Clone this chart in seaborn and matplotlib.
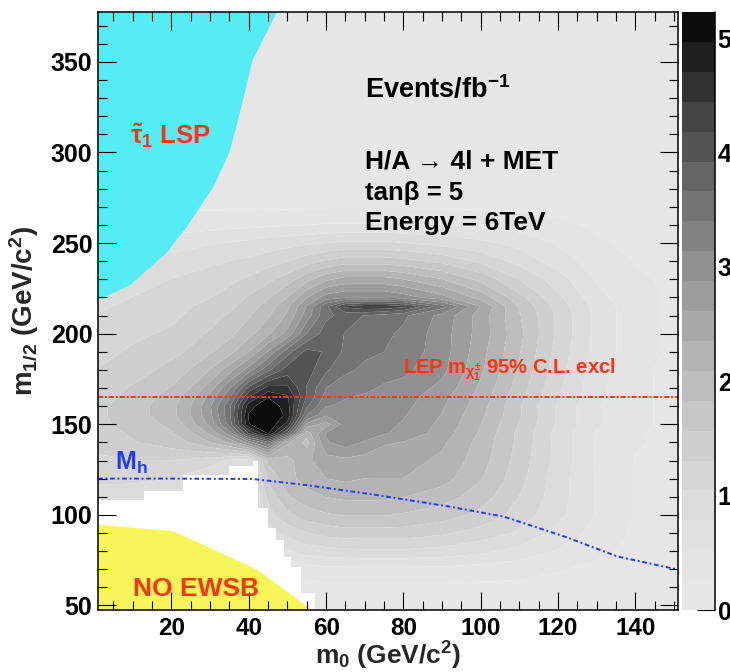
import numpy as np
import matplotlib
matplotlib.use("Agg")
import matplotlib.pyplot as plt
import seaborn as sns
from matplotlib.ticker import MultipleLocator

# ---------------------------------------------------------------------------
# Expected signal yield (events / fb^-1) for H/A -> 4l + MET on the (m0, m1/2) plane
# ---------------------------------------------------------------------------
m0_grid = [0, 10, 20, 25, 30, 35, 40, 45, 50, 55, 60, 65, 70, 75, 80, 90, 100, 110, 120, 130, 140, 152]
m12_grid = [45, 60, 70, 80, 90, 100, 110, 120, 130, 140, 145, 150, 155, 160, 165, 170,
            180, 190, 200, 210, 215, 220, 230, 240, 250, 260, 270, 300, 380]

events = [
    # m1/2 = 45
    [0.12, 0.12, 0.12, 0.12, 0.12, 0.12, 0.12, 0.12, 0.12, 0.12, 0.12, 0.12, 0.12, 0.12, 0.12, 0.12, 0.12, 0.12, 0.12, 0.12, 0.12, 0.12],
    # 60
    [0.12, 0.12, 0.12, 0.12, 0.12, 0.12, 0.12, 0.12, 0.15, 0.18, 0.20, 0.20, 0.20, 0.20, 0.20, 0.20, 0.20, 0.20, 0.18, 0.15, 0.12, 0.12],
    # 70
    [0.12, 0.12, 0.12, 0.12, 0.12, 0.12, 0.12, 0.12, 0.30, 0.40, 0.45, 0.45, 0.45, 0.45, 0.45, 0.45, 0.40, 0.35, 0.28, 0.20, 0.15, 0.12],
    # 80
    [0.12, 0.12, 0.12, 0.12, 0.12, 0.12, 0.12, 0.50, 0.75, 0.90, 0.95, 0.98, 1.00, 1.00, 1.00, 0.95, 0.85, 0.70, 0.50, 0.32, 0.20, 0.15],
    # 90
    [0.12, 0.12, 0.12, 0.12, 0.12, 0.12, 0.12, 0.90, 1.15, 1.30, 1.40, 1.45, 1.45, 1.45, 1.45, 1.35, 1.20, 1.00, 0.70, 0.42, 0.22, 0.18],
    # 100
    [0.95, 0.90, 0.80, 0.70, 0.60, 0.50, 0.45, 1.20, 1.50, 1.70, 1.80, 1.85, 1.85, 1.85, 1.80, 1.70, 1.50, 1.20, 0.85, 0.50, 0.25, 0.20],
    # 110
    [0.95, 0.90, 0.80, 0.70, 0.60, 0.50, 0.45, 1.40, 1.80, 2.00, 2.10, 2.15, 2.15, 2.15, 2.10, 1.95, 1.70, 1.30, 0.90, 0.50, 0.25, 0.20],
    # 120
    [1.10, 1.10, 1.05, 0.95, 0.85, 0.75, 0.65, 1.60, 2.00, 2.20, 2.35, 2.40, 2.35, 2.35, 2.35, 2.20, 1.85, 1.40, 0.90, 0.50, 0.25, 0.20],
    # 130
    [1.25, 1.30, 1.30, 1.25, 1.15, 1.00, 0.85, 1.90, 2.00, 2.30, 2.50, 2.55, 2.50, 2.45, 2.45, 2.30, 1.95, 1.45, 0.95, 0.50, 0.25, 0.20],
    # 140
    [1.40, 1.55, 1.70, 1.85, 2.10, 2.40, 3.00, 3.60, 2.40, 2.00, 2.85, 3.00, 2.85, 2.65, 2.60, 2.40, 2.00, 1.50, 0.95, 0.50, 0.28, 0.20],
    # 145
    [1.45, 1.60, 1.80, 2.05, 2.40, 3.00, 4.20, 5.00, 3.90, 2.20, 2.90, 3.05, 3.00, 2.90, 2.80, 2.50, 2.05, 1.50, 0.95, 0.50, 0.28, 0.20],
    # 150
    [1.50, 1.65, 1.90, 2.25, 2.70, 3.50, 4.95, 5.22, 4.60, 2.80, 2.50, 3.00, 3.05, 2.95, 2.85, 2.55, 2.10, 1.55, 1.00, 0.55, 0.30, 0.20],
    # 155
    [1.50, 1.70, 2.00, 2.35, 2.80, 3.60, 5.00, 5.22, 4.90, 3.40, 2.90, 3.00, 3.05, 3.00, 2.90, 2.60, 2.15, 1.60, 1.00, 0.55, 0.30, 0.20],
    # 160
    [1.50, 1.70, 2.00, 2.35, 2.85, 3.60, 4.85, 5.20, 4.80, 3.70, 3.15, 3.10, 3.05, 3.00, 2.95, 2.65, 2.20, 1.60, 1.00, 0.55, 0.30, 0.20],
    # 165
    [1.45, 1.65, 1.95, 2.25, 2.70, 3.35, 4.45, 4.95, 4.75, 3.90, 3.30, 3.15, 3.10, 3.05, 3.00, 2.70, 2.25, 1.65, 1.05, 0.60, 0.30, 0.20],
    # 170
    [1.40, 1.60, 1.85, 2.10, 2.50, 3.10, 4.00, 4.55, 4.50, 3.90, 3.40, 3.25, 3.20, 3.10, 3.05, 2.80, 2.30, 1.70, 1.10, 0.60, 0.30, 0.20],
    # 180
    [1.30, 1.45, 1.65, 1.85, 2.10, 2.50, 3.00, 3.60, 4.05, 4.05, 3.70, 3.45, 3.35, 3.25, 3.20, 2.95, 2.40, 1.80, 1.15, 0.65, 0.30, 0.20],
    # 190
    [1.20, 1.35, 1.50, 1.60, 1.80, 2.00, 2.35, 2.90, 3.55, 4.00, 3.90, 3.60, 3.45, 3.40, 3.30, 3.00, 2.45, 1.85, 1.20, 0.70, 0.35, 0.20],
    # 200
    [1.15, 1.25, 1.35, 1.50, 1.60, 1.75, 2.00, 2.30, 2.70, 3.40, 3.80, 3.65, 3.50, 3.45, 3.35, 3.00, 2.50, 1.90, 1.25, 0.70, 0.35, 0.20],
    # 210
    [1.05, 1.15, 1.25, 1.35, 1.45, 1.60, 1.80, 2.05, 2.40, 3.00, 3.60, 3.75, 3.65, 3.55, 3.45, 3.05, 2.50, 1.85, 1.25, 0.70, 0.35, 0.20],
    # 215
    [1.00, 1.10, 1.20, 1.30, 1.40, 1.50, 1.70, 1.95, 2.30, 2.90, 3.60, 4.25, 4.40, 4.40, 4.25, 3.50, 2.60, 1.80, 1.20, 0.70, 0.35, 0.20],
    # 220
    [0.95, 1.05, 1.15, 1.20, 1.30, 1.40, 1.60, 1.80, 2.10, 2.60, 3.00, 3.10, 3.10, 3.10, 3.00, 2.70, 2.25, 1.65, 1.10, 0.60, 0.35, 0.20],
    # 230
    [0.85, 0.95, 1.05, 1.10, 1.15, 1.25, 1.35, 1.50, 1.70, 2.00, 2.30, 2.45, 2.45, 2.45, 2.35, 2.10, 1.75, 1.30, 0.90, 0.50, 0.30, 0.20],
    # 240
    [0.75, 0.80, 0.90, 0.95, 1.00, 1.05, 1.10, 1.20, 1.30, 1.45, 1.60, 1.70, 1.70, 1.70, 1.65, 1.50, 1.25, 0.95, 0.65, 0.40, 0.25, 0.20],
    # 250
    [0.55, 0.60, 0.65, 0.70, 0.75, 0.80, 0.85, 0.90, 0.95, 1.00, 1.05, 1.10, 1.10, 1.10, 1.05, 0.95, 0.85, 0.70, 0.50, 0.30, 0.20, 0.15],
    # 260
    [0.30, 0.35, 0.40, 0.40, 0.42, 0.45, 0.45, 0.48, 0.50, 0.52, 0.55, 0.55, 0.55, 0.55, 0.55, 0.52, 0.48, 0.40, 0.32, 0.22, 0.15, 0.12],
    # 270
    [0.20, 0.20, 0.22, 0.22, 0.22, 0.22, 0.22, 0.22, 0.22, 0.22, 0.22, 0.22, 0.22, 0.22, 0.22, 0.22, 0.22, 0.20, 0.18, 0.15, 0.12, 0.12],
    # 300
    [0.12, 0.12, 0.12, 0.12, 0.12, 0.12, 0.12, 0.12, 0.12, 0.12, 0.12, 0.12, 0.12, 0.12, 0.12, 0.12, 0.12, 0.12, 0.12, 0.12, 0.12, 0.12],
    # 380
    [0.12, 0.12, 0.12, 0.12, 0.12, 0.12, 0.12, 0.12, 0.12, 0.12, 0.12, 0.12, 0.12, 0.12, 0.12, 0.12, 0.12, 0.12, 0.12, 0.12, 0.12, 0.12],
]
z_max = 5.23
n_contours = 20

# theoretically excluded regions
stau_lsp_m0 = [1, 1, 9.3, 18.9, 24, 30.8, 35, 37.7, 41, 47.3]
stau_lsp_m12 = [377.5, 218.5, 226.8, 245, 259, 281, 300, 322, 351, 377.5]
no_ewsb_m0 = [1, 1, 20.4, 42, 56.3]
no_ewsb_m12 = [47.5, 94.5, 91, 70, 47.5]

# parameter points without generated events
empty_m0 = [1, 1, 13, 13, 23, 23, 35, 35, 41, 41, 42.5, 42.5, 45, 45, 47, 47, 49, 49, 51, 51,
            53.5, 53.5, 57, 57]
empty_m12 = [47.5, 108, 108, 113, 113, 122, 122, 127, 127, 130, 130, 104, 104, 93, 93, 86, 86,
             77, 77, 71, 71, 57, 57, 47.5]

# light Higgs mass limit contour and LEP chargino limit
mh_m0 = [1, 20, 41, 55, 72, 91.5, 106, 121.7, 135.4, 151]
mh_m12 = [120, 120, 119.8, 116.4, 111.3, 104.7, 99, 88, 77, 69.8]
lep_m0 = [1, 151]
lep_m12 = [165, 165]

# ---------------------------------------------------------------------------
sns.set_theme(style="ticks")
plt.rcParams.update({
    "font.family": ["Liberation Sans", "DejaVu Sans"],
    "font.weight": "bold",
    "axes.labelweight": "bold",
    "mathtext.fontset": "custom",
    "mathtext.rm": "Liberation Sans:bold",
    "mathtext.it": "Liberation Sans:bold",
    "mathtext.bf": "Liberation Sans:bold",
    "mathtext.sf": "Liberation Sans:bold",
    "axes.linewidth": 1.1,
    "axes.edgecolor": "black",
    "xtick.color": "black",
    "ytick.color": "black",
})

RED = "#FF3311"
BLUE = "#1E3CFF"
W, H = 730, 672

fig = plt.figure(figsize=(W / 100, H / 100), dpi=100)
ax = fig.add_axes([98 / W, 62 / H, 580 / W, 598 / H])
cax = fig.add_axes([682 / W, 62 / H, 33 / W, 598 / H])

levels = np.linspace(0, z_max, n_contours + 1)
grays = [str(0.9 - 0.85 * (k / (n_contours - 1)) ** 1.7) for k in range(n_contours)]
cs = ax.contourf(m0_grid, m12_grid, np.array(events), levels=levels, colors=grays,
                 antialiased=True, zorder=0.6)

ax.fill(empty_m0, empty_m12, color="white", lw=0, zorder=0.8)
ax.fill(no_ewsb_m0, no_ewsb_m12, color="#F6F55A", lw=0, zorder=0.9)
ax.fill(stau_lsp_m0, stau_lsp_m12, color="#55EDF3", lw=0, zorder=0.9)

sns.lineplot(x=lep_m0, y=lep_m12, ax=ax, color=RED, lw=1.4,
             linestyle=(0, (2.6, 1.0, 1.0, 1.0)), zorder=2)
sns.lineplot(x=mh_m0, y=mh_m12, ax=ax, color=BLUE, lw=1.4,
             linestyle=(0, (2.4, 1.4, 1.0, 1.4)), zorder=2, sort=False)

ax.set_xlim(1, 151)
ax.set_ylim(47.5, 377.5)
ax.set_axisbelow(False)

ax.xaxis.set_major_locator(MultipleLocator(20))
ax.xaxis.set_minor_locator(MultipleLocator(5))
ax.yaxis.set_major_locator(MultipleLocator(50))
ax.yaxis.set_minor_locator(MultipleLocator(10))
ax.tick_params(which="both", direction="in", top=True, right=True, width=0.8)
ax.tick_params(which="major", length=13)
ax.tick_params(which="minor", length=6.5)
ax.tick_params(axis="x", which="major", labelsize=17.5, pad=5)
ax.tick_params(axis="y", which="major", labelsize=18, pad=4)
for lab in ax.get_xticklabels() + ax.get_yticklabels():
    lab.set_fontweight("bold")

ax.set_xlabel("m$_{0}$ (GeV/c$^{2}$)", fontsize=19, fontweight="bold")
ax.set_ylabel("m$_{1/2}$ (GeV/c$^{2}$)", fontsize=20, fontweight="bold")
ax.xaxis.set_label_coords(0.5, -0.05)
ax.yaxis.set_label_coords(-0.098, 0.5)

txt = dict(fontweight="bold", va="baseline", ha="left", zorder=3)
ax.text(70, 330, "Events/fb$^{-1}$", fontsize=19.5, color="black", **txt)
ax.text(70, 291.4, "H/A → 4l + MET", fontsize=19, color="black", **txt)
ax.text(70, 273.8, "tanβ = 5", fontsize=18.5, color="black", **txt)
ax.text(70, 257.2, "Energy = 6TeV", fontsize=19, color="black", **txt)
ax.text(9.3, 305, "$\\tilde{\\tau}_{1}$ LSP", fontsize=18.5, color=RED, **txt)
ax.text(10, 55.5, "NO EWSB", fontsize=19, color=RED, **txt)
ax.text(5.4, 125, "M$_{h}$", fontsize=18, color=BLUE, **txt)
ax.text(79.8, 177.6, "LEP m$_{\\chi^{\\pm}_{1}}$ 95% C.L. excl", fontsize=14.5, color=RED, **txt)

cb = fig.colorbar(cs, cax=cax, ticks=range(6))
cb.outline.set_visible(False)
cax.plot([1, 1], [0, 1], transform=cax.transAxes, color="black", lw=1.1, clip_on=False)
cax.yaxis.set_ticks_position("right")
cax.tick_params(which="major", direction="in", length=13, width=0.8, labelsize=18, pad=2)
cax.minorticks_off()
for lab in cax.get_yticklabels():
    lab.set_fontweight("bold")

fig.savefig("out.png", dpi=100)
